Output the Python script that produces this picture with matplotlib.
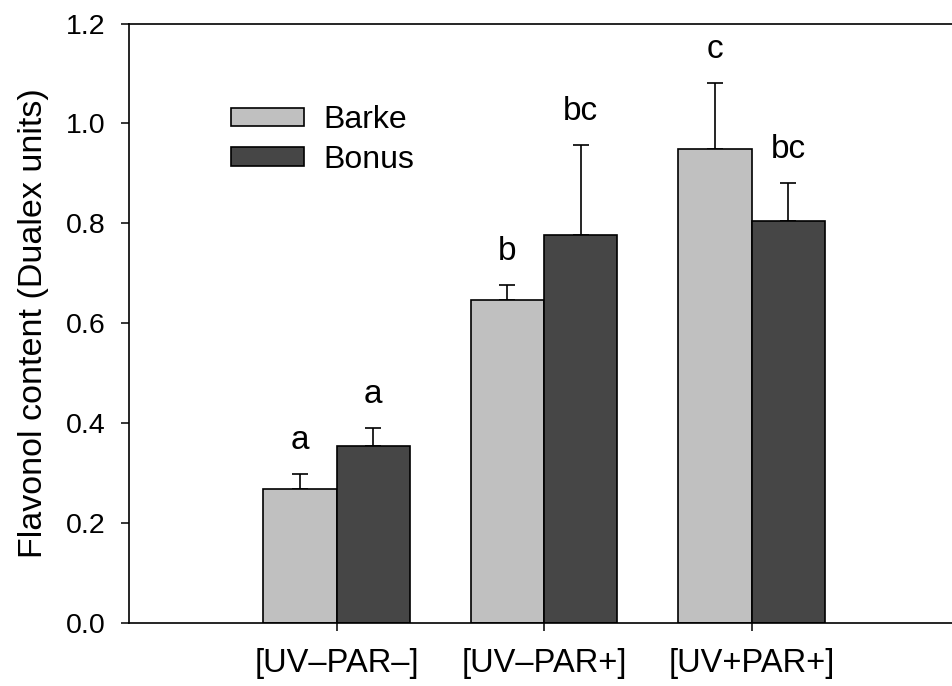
import matplotlib
matplotlib.use("Agg")
import matplotlib.pyplot as plt
import numpy as np

plt.rcParams['font.family'] = ['Liberation Sans', 'DejaVu Sans']

# Treatments and cultivar means (Dualex units) with upper SE
treatments = ['[UV\u2013PAR\u2013]', '[UV\u2013PAR+]', '[UV+PAR+]']
cultivars = ['Barke', 'Bonus']
barke_mean = [0.268, 0.646, 0.948]
barke_err = [0.030, 0.031, 0.133]
bonus_mean = [0.354, 0.777, 0.805]
bonus_err = [0.037, 0.180, 0.075]
barke_letters = ['a', 'b', 'c']
bonus_letters = ['a', 'bc', 'bc']

fig = plt.figure(figsize=(9.52, 6.86), dpi=100)
ax = fig.add_axes([0.1355, 0.0918, 0.8719, 0.8739])

x = np.arange(1, len(treatments) + 1)
w = 0.354
colors = ['#c0c0c0', '#464646']

for means, errs, letters, off, col, lab in [
        (barke_mean, barke_err, barke_letters, -w / 2, colors[0], cultivars[0]),
        (bonus_mean, bonus_err, bonus_letters, w / 2, colors[1], cultivars[1])]:
    ax.bar(x + off, means, width=w, color=col, edgecolor='black',
           linewidth=1.2, label=lab, zorder=2)
    ax.errorbar(x + off, means, yerr=[np.zeros(len(errs)), errs], fmt='none',
                ecolor='black', elinewidth=1.2, capsize=6, capthick=1.2, zorder=1)
    for xi, m, e, t in zip(x + off, means, errs, letters):
        ax.annotate(t, (xi, m + e), xytext=(0, 13), textcoords='offset points',
                    ha='center', va='bottom', fontsize=24)

ax.set_xlim(0, 4)
ax.set_ylim(0, 1.2)
ax.set_xticks(x)
ax.set_xticklabels(treatments, fontsize=23.5)
ax.set_yticks(np.arange(0, 1.21, 0.2))
ax.set_yticklabels([f'{v:.1f}' for v in np.arange(0, 1.21, 0.2)], fontsize=20.5)
ax.tick_params(axis='y', direction='out', length=6, width=1.1, pad=11)
ax.tick_params(axis='x', direction='out', length=6, width=1.1, pad=12)
ax.spines['right'].set_visible(False)
for s in ['left', 'bottom', 'top']:
    ax.spines[s].set_linewidth(1.2)
ax.set_ylabel('Flavonol content (Dualex units)', fontsize=24.5, labelpad=12)

ax.legend(loc='upper left', bbox_to_anchor=(0.107, 0.885), frameon=False,
          fontsize=23, handlelength=2.3, handleheight=0.52,
          handletextpad=0.62, labelspacing=0.3, borderaxespad=0)

fig.savefig('out.png', dpi=100)
